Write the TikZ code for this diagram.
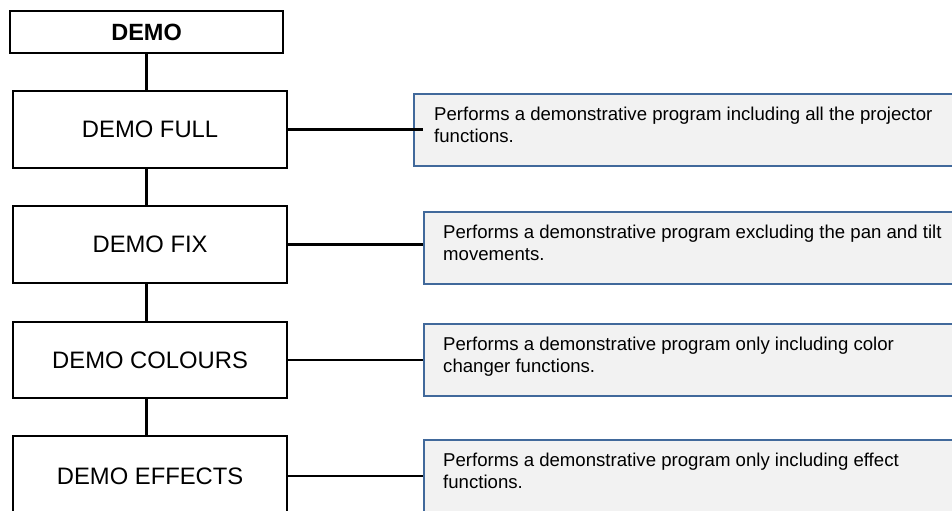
\documentclass[tikz,border=0pt]{standalone}
\usepackage{fontspec}
\setmainfont{Liberation Sans}
\definecolor{descborder}{RGB}{65,105,155}
\definecolor{descfill}{RGB}{242,242,242}
\begin{document}
\begin{tikzpicture}[x=1bp,y=-1bp,
  mainbox/.style={draw=black, line width=2.2bp, fill=white, minimum width=274bp, inner sep=0pt, anchor=north west, font=\fontsize{23.8bp}{28bp}\selectfont},
  descbox/.style={draw=descborder, line width=2bp, fill=descfill, minimum width=560bp, minimum height=72bp, inner sep=0pt, anchor=north west},
  desctext/.style={anchor=north west, inner sep=0pt, align=left, font=\fontsize{18.6bp}{21.6bp}\selectfont},
  link/.style={draw=black, line width=2.4bp}]
\useasboundingbox (0,0) rectangle (952,511);
\clip (0,0) rectangle (952,511);
% left column
\node[mainbox, minimum width=273bp, minimum height=42bp, font=\fontsize{23.5bp}{28bp}\selectfont\bfseries] (demo) at (9,10) {DEMO};
\node[mainbox, minimum height=77bp] (full) at (12,90) {DEMO FULL};
\node[mainbox, minimum height=77bp] (fix) at (12,205) {DEMO FIX};
\node[mainbox, minimum height=76bp] (col) at (12,321) {DEMO COLOURS};
\node[mainbox, minimum height=80bp] (eff) at (12,435) {DEMO EFFECTS};
% description boxes
\node[descbox] (d1) at (413,93) {};
\node[desctext] (t1) at (434,107) {Performs a demonstrative program including all the projector\\functions.};
\node[descbox] (d2) at (423,211) {};
\node[desctext] (t2) at (443,225) {Performs a demonstrative program excluding the pan and tilt\\movements.};
\node[descbox] (d3) at (423,323) {};
\node[desctext] (t3) at (443,337) {Performs a demonstrative program only including color\\changer functions.};
\node[descbox] (d4) at (423,439) {};
\node[desctext] (t4) at (443,453) {Performs a demonstrative program only including effect\\functions.};
% vertical connectors
\draw[link] (demo.south) -- (demo.south |- full.north);
\draw[link] (demo.south |- full.south) -- (demo.south |- fix.north);
\draw[link] (demo.south |- fix.south) -- (demo.south |- col.north);
\draw[link] (demo.south |- col.south) -- (demo.south |- eff.north);
% horizontal connectors
\draw[link] (full.east) -- (full.east -| d2.west);
\draw[link] (fix.east) -- (d2.west |- fix.east);
\draw[link] (col.east) -- (d3.west |- col.east);
\draw[link] (eff.east) -- (d4.west |- eff.east);
\end{tikzpicture}
\end{document}
